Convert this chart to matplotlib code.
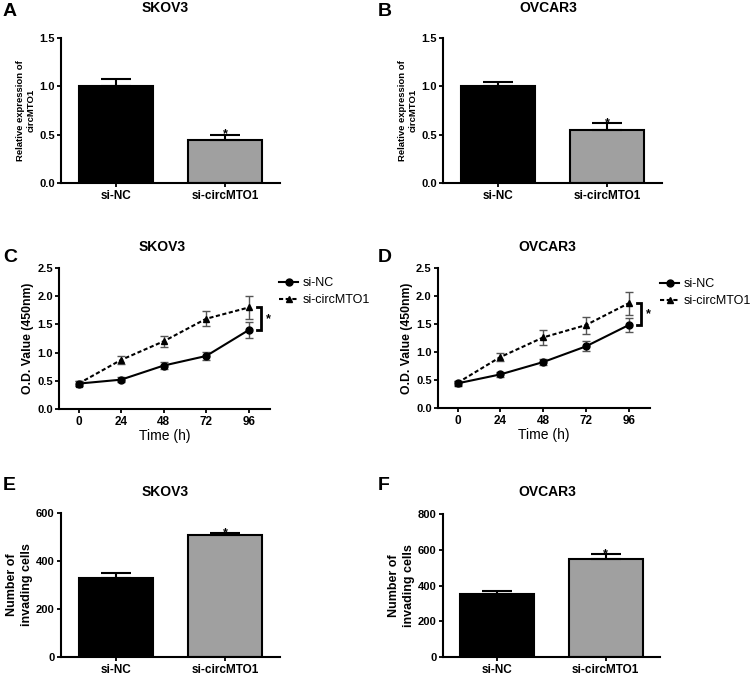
import matplotlib
matplotlib.use("Agg")
import matplotlib.pyplot as plt
from matplotlib.lines import Line2D

plt.rcParams['font.family'] = ['Liberation Sans', 'DejaVu Sans']

# ---- data ----
groups = ["si-NC", "si-circMTO1"]
bar_colors = ["#000000", "#a0a0a0"]

qpcr_skov3 = [1.00, 0.45]
qpcr_skov3_err = [0.08, 0.05]
qpcr_ovcar3 = [1.00, 0.55]
qpcr_ovcar3_err = [0.05, 0.07]

time_h = [0, 24, 48, 72, 96]
cck_skov3_nc = [0.45, 0.52, 0.77, 0.94, 1.40]
cck_skov3_nc_err = [0.04, 0.04, 0.06, 0.07, 0.14]
cck_skov3_si = [0.45, 0.87, 1.20, 1.60, 1.80]
cck_skov3_si_err = [0.04, 0.07, 0.10, 0.13, 0.20]
cck_ovcar3_nc = [0.44, 0.60, 0.82, 1.10, 1.48]
cck_ovcar3_nc_err = [0.04, 0.05, 0.05, 0.09, 0.12]
cck_ovcar3_si = [0.45, 0.91, 1.26, 1.48, 1.87]
cck_ovcar3_si_err = [0.04, 0.07, 0.13, 0.15, 0.21]

inv_skov3 = [330, 510]
inv_skov3_err = [20, 8]
inv_ovcar3 = [350, 550]
inv_ovcar3_err = [18, 25]

W, H = 750, 675
fig = plt.figure(figsize=(7.5, 6.75), dpi=100)

def rect(l, r, t, b):
    return [l / W, 1 - b / H, (r - l) / W, (b - t) / H]

def style(ax, xsize=8.5, ysize=8):
    for s in ['top', 'right']:
        ax.spines[s].set_visible(False)
    for s in ['left', 'bottom']:
        ax.spines[s].set_linewidth(1.5)
    ax.tick_params(width=1.3, length=3, pad=1.5)
    ax.tick_params(axis='x', labelsize=xsize, pad=2)
    ax.tick_params(axis='y', labelsize=ysize)
    for lab in ax.get_xticklabels() + ax.get_yticklabels():
        lab.set_fontweight('bold')

def place_ylabel(ax, pos, right_px):
    # right edge of the rotated label at a given pixel column
    left_px = pos[0] * W
    ax.yaxis.set_label_coords((right_px - left_px) / (pos[2] * W), 0.5)

def bar_panel(pos, vals, errs, ylim, yticks, yfmt, ylabel, ylsize, lab_right, title, letter, letter_xy, title_xy):
    ax = fig.add_axes(pos)
    x = list(range(len(groups)))
    ax.bar(x, vals, width=0.68, color=bar_colors, edgecolor='black', linewidth=1.5, zorder=2)
    ax.errorbar(x, vals, yerr=[[0] * len(errs), errs], fmt='none', ecolor='black',
                elinewidth=1.5, capsize=10.5, capthick=1.5, zorder=3)
    ax.text(x[1], vals[1] + errs[1], '*', ha='center', va='center', fontsize=9, fontweight='bold')
    ax.set_xlim(-0.5, 1.5)
    ax.set_ylim(*ylim)
    ax.set_yticks(yticks)
    ax.set_yticklabels([yfmt.format(v) for v in yticks])
    ax.set_xticks(x)
    ax.set_xticklabels(groups)
    ax.set_ylabel(ylabel, fontsize=ylsize, fontweight='bold', linespacing=1.3)
    place_ylabel(ax, pos, lab_right)
    style(ax)
    fig.text(title_xy[0] / W, 1 - title_xy[1] / H, title, ha='center', va='center',
             fontsize=10, fontweight='bold')
    fig.text(letter_xy[0] / W, 1 - letter_xy[1] / H, letter, ha='left', va='center',
             fontsize=14, fontweight='bold')
    return ax

def line_panel(pos, nc, nce, si, sie, lab_right, title, letter, letter_xy, title_xy, legend_xy):
    ax = fig.add_axes(pos)
    ax.errorbar(time_h, nc, yerr=nce, color='black', ecolor='#555555', marker='o', markersize=5,
                linewidth=1.5, elinewidth=1, capsize=3, capthick=1, label='si-NC', zorder=3)
    ax.errorbar(time_h, si, yerr=sie, color='black', ecolor='#555555', marker='^', markersize=5,
                linestyle=(0, (2, 1.2)), linewidth=1.5, elinewidth=1, capsize=3, capthick=1,
                label='si-circMTO1', zorder=3)
    ax.set_xlim(-11, 108)
    ax.set_ylim(0, 2.5)
    ax.set_yticks([0, 0.5, 1.0, 1.5, 2.0, 2.5])
    ax.set_yticklabels(['0.0', '0.5', '1.0', '1.5', '2.0', '2.5'])
    ax.set_xticks(time_h)
    ax.set_xticklabels([str(t) for t in time_h])
    ax.set_ylabel('O.D. Value (450nm)', fontsize=8.8, fontweight='bold')
    place_ylabel(ax, pos, lab_right)
    ax.set_xlabel('Time (h)', fontsize=10, labelpad=1)
    style(ax)
    # significance bracket
    bx = 103
    lo, hi = nc[-1], si[-1]
    ax.plot([bx - 2.5, bx, bx, bx - 2.5], [hi, hi, lo, lo], color='black', linewidth=2,
            clip_on=False, solid_joinstyle='miter')
    ax.text(bx + 2.5, (lo + hi) / 2, '*', ha='left', va='center', fontsize=9, fontweight='bold')
    handles = [Line2D([0], [0], color='black', marker='o', markersize=5, linewidth=1.5),
               Line2D([0], [0], color='black', marker='^', markersize=5, linewidth=1.5,
                      linestyle=(0, (2, 1.2)))]
    fig.legend(handles, ['si-NC', 'si-circMTO1'], loc='upper left',
               bbox_to_anchor=(legend_xy[0] / W, 1 - legend_xy[1] / H), frameon=False,
               fontsize=9, handlelength=1.5, handletextpad=0.4, labelspacing=0.4, borderpad=0)
    fig.text(title_xy[0] / W, 1 - title_xy[1] / H, title, ha='center', va='center',
             fontsize=10, fontweight='bold')
    fig.text(letter_xy[0] / W, 1 - letter_xy[1] / H, letter, ha='left', va='center',
             fontsize=14, fontweight='bold')
    return ax

posA = rect(61, 280, 38, 183)
posB = rect(443, 662, 38, 183)
posC = rect(59, 270, 268, 409)
posD = rect(438, 650, 268, 408)
posE = rect(61, 280, 513, 657)
posF = rect(443, 660, 514, 657)

bar_panel(posA, qpcr_skov3, qpcr_skov3_err, (0, 1.5), [0, 0.5, 1.0, 1.5],
          '{:.1f}', 'Relative expression of\ncircMTO1', 6.8, 36, 'SKOV3', 'A', (3, 12), (165, 8))
bar_panel(posB, qpcr_ovcar3, qpcr_ovcar3_err, (0, 1.5), [0, 0.5, 1.0, 1.5],
          '{:.1f}', 'Relative expression of\ncircMTO1', 6.8, 418, 'OVCAR3', 'B', (378, 12), (548, 8))

line_panel(posC, cck_skov3_nc, cck_skov3_nc_err, cck_skov3_si, cck_skov3_si_err, 34,
           'SKOV3', 'C', (3, 257), (162, 247), (273, 271))
line_panel(posD, cck_ovcar3_nc, cck_ovcar3_nc_err, cck_ovcar3_si, cck_ovcar3_si_err, 413,
           'OVCAR3', 'D', (378, 257), (547, 247), (654, 272))

bar_panel(posE, inv_skov3, inv_skov3_err, (0, 600), [0, 200, 400, 600],
          '{:d}', 'Number of\ninvading cells', 9, 33, 'SKOV3', 'E', (3, 485), (165, 492))
bar_panel(posF, inv_ovcar3, inv_ovcar3_err, (0, 800), [0, 200, 400, 600, 800],
          '{:d}', 'Number of\ninvading cells', 9, 415, 'OVCAR3', 'F', (378, 485), (547, 492))

fig.savefig('out.png', dpi=100)
